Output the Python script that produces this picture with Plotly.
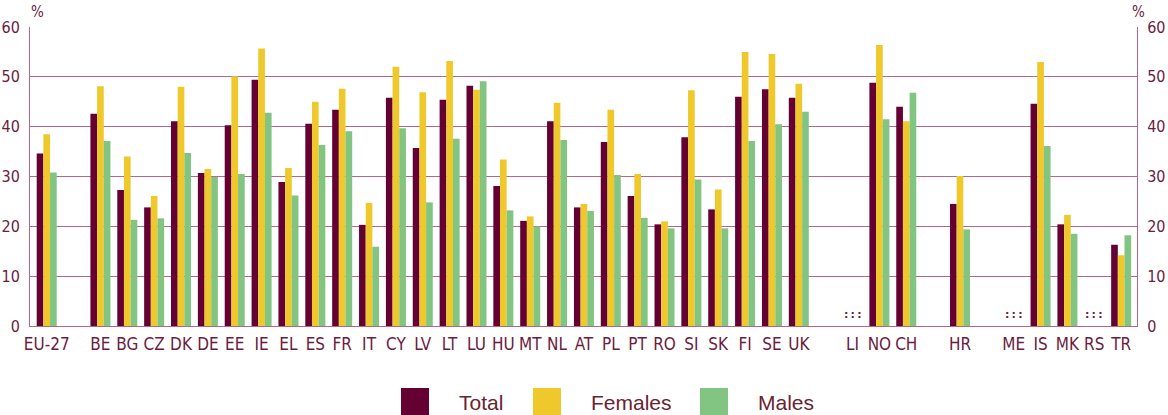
import plotly.graph_objects as go

# Share of population (%) by country, grouped bars for Total / Females / Males
categories = ["EU-27", " ",
              "BE", "BG", "CZ", "DK", "DE", "EE", "IE", "EL", "ES", "FR", "IT",
              "CY", "LV", "LT", "LU", "HU", "MT", "NL", "AT", "PL", "PT", "RO",
              "SI", "SK", "FI", "SE", "UK", "  ",
              "LI", "NO", "CH", "   ",
              "HR", "    ",
              "ME", "IS", "MK", "RS", "TR"]

countries = ["EU-27",
             "BE", "BG", "CZ", "DK", "DE", "EE", "IE", "EL", "ES", "FR", "IT",
             "CY", "LV", "LT", "LU", "HU", "MT", "NL", "AT", "PL", "PT", "RO",
             "SI", "SK", "FI", "SE", "UK",
             "LI", "NO", "CH",
             "HR",
             "ME", "IS", "MK", "RS", "TR"]

total = [34.6,
         42.6, 27.3, 23.8, 41.1, 30.7, 40.3, 49.4, 28.9, 40.6, 43.4, 20.3,
         45.8, 35.7, 45.4, 48.2, 28.1, 21.1, 41.1, 23.8, 36.9, 26.1, 20.4,
         37.9, 23.4, 46.0, 47.5, 45.8,
         None, 48.8, 44.0,
         24.5,
         None, 44.6, 20.4, None, 16.3]

females = [38.5,
           48.1, 34.0, 26.1, 48.0, 31.5, 50.1, 55.7, 31.7, 45.0, 47.6, 24.7,
           52.0, 46.9, 53.2, 47.4, 33.4, 22.0, 44.8, 24.5, 43.4, 30.5, 21.0,
           47.3, 27.4, 55.0, 54.6, 48.6,
           None, 56.4, 41.1,
           30.1,
           None, 53.0, 22.3, None, 14.2]

males = [30.8,
         37.1, 21.3, 21.6, 34.7, 29.9, 30.5, 42.8, 26.2, 36.3, 39.1, 15.9,
         39.7, 24.8, 37.6, 49.1, 23.2, 20.0, 37.3, 23.1, 30.3, 21.7, 19.6,
         29.4, 19.6, 37.1, 40.5, 43.0,
         None, 41.5, 46.8,
         19.4,
         None, 36.1, 18.5, None, 18.2]

not_available = ["LI", "ME", "RS"]

y_ticks = [0, 10, 20, 30, 40, 50, 60]

series_names = ["Total", "Females", "Males"]
series_values = [total, females, males]
series_colors = ["#650032", "#efc92b", "#82c482"]

TEXT = "#6b1d3d"
GRID = "#b4678a"
AXIS_FONT = "DejaVu Sans Condensed, sans-serif"

W, H = 1168, 415
ML, MR, MT, MB = 30, 31, 27, 89
PW, PH = W - ML - MR, H - MT - MB


def px_x(x):
    return (x - ML) / PW


def px_y(y):
    return (H - MB - y) / PH


fig = go.Figure()
for name, vals, col in zip(series_names, series_values, series_colors):
    fig.add_trace(go.Bar(x=countries, y=vals, name=name, marker_color=col,
                         marker_line_width=0, showlegend=False))

# right-hand axis carries the same scale
fig.add_trace(go.Scatter(x=[countries[0]], y=[0], yaxis="y2", mode="markers",
                         marker_opacity=0, showlegend=False, hoverinfo="skip"))

annotations = []
# ":::" marks for data not available
for c in not_available:
    annotations.append(dict(x=c, y=2.4, xref="x", yref="y", text=":\u2009:\u2009:",
                            showarrow=False, yanchor="middle",
                            font=dict(family="DejaVu Sans", size=11, weight="bold",
                                      color=TEXT)))

# unit labels above both axes
for xp in (px_x(37), px_x(1138)):
    annotations.append(dict(x=xp, y=px_y(12), xref="paper", yref="paper", text="%",
                            showarrow=False, xanchor="center", yanchor="middle",
                            font=dict(family=AXIS_FONT, size=15, color=TEXT)))

# legend row below the chart
shapes = []
legend_x = [401, 533, 700]
for name, col, lx in zip(series_names, series_colors, legend_x):
    shapes.append(dict(type="rect", xref="paper", yref="paper",
                       x0=px_x(lx), x1=px_x(lx + 28), y0=px_y(415), y1=px_y(388),
                       fillcolor=col, line_width=0, layer="above"))
    annotations.append(dict(x=px_x(lx + 56), y=px_y(402), xref="paper", yref="paper",
                            text=name, showarrow=False, xanchor="left", yanchor="middle",
                            font=dict(family="Liberation Sans, Arial, sans-serif",
                                      size=21, color="#6a2430")))

axis_common = dict(range=[0, 60], tickvals=y_ticks, ticks="outside", ticklen=6,
                   tickcolor="rgba(0,0,0,0)", showline=True, linecolor=GRID,
                   linewidth=1, zeroline=False, automargin=False,
                   tickfont=dict(family=AXIS_FONT, size=16, color=TEXT))

fig.update_layout(
    width=W, height=H,
    margin=dict(l=ML, r=MR, t=MT, b=MB, pad=0, autoexpand=False),
    paper_bgcolor="white", plot_bgcolor="white",
    barmode="group", bargap=0.255, bargroupgap=0,
    xaxis=dict(type="category", categoryorder="array", categoryarray=categories,
               range=[-0.622, 40.59], tickangle=0, ticks="outside", ticklen=3,
               tickcolor="rgba(0,0,0,0)", showline=True, linecolor=GRID,
               linewidth=1, showgrid=False, automargin=False,
               tickfont=dict(family=AXIS_FONT, size=17, color=TEXT)),
    yaxis=dict(showgrid=True, gridcolor=GRID, gridwidth=1, side="left", **axis_common),
    yaxis2=dict(overlaying="y", side="right", showgrid=False, **axis_common),
    shapes=shapes,
    annotations=annotations,
    showlegend=False,
)

fig.write_html("out.html")
